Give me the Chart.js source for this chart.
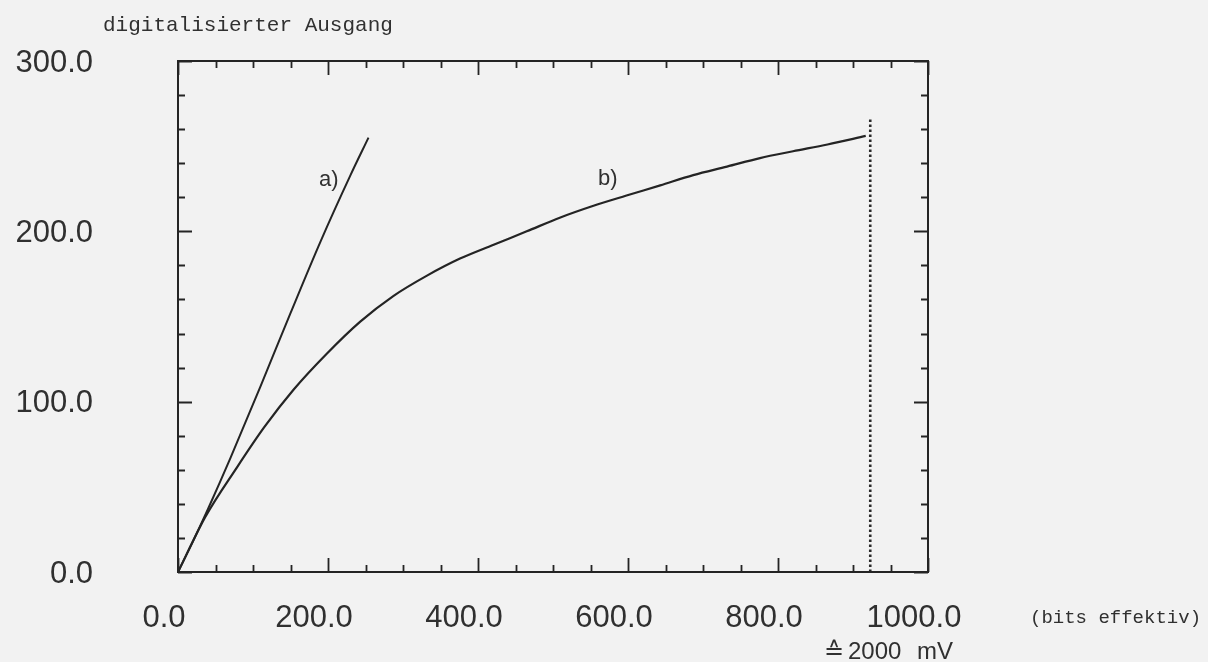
<!DOCTYPE html>
<html>
<head>
<meta charset="utf-8">
<title>digitalisierter Ausgang</title>
<script src="https://cdn.jsdelivr.net/npm/chart.js@4/dist/chart.umd.min.js"></script>
<style>
  html, body { margin: 0; padding: 0; background: #f2f2f2; }
  #wrap { width: 1208px; height: 662px; }
</style>
</head>
<body>
<div id="wrap"><canvas id="adcChart" width="1208" height="662"></canvas></div>
<script>
// values
const curveAX = [0, 20, 40, 70, 110, 150, 190, 230, 254];
const curveAY = [0, 18, 37, 67, 109, 152, 194, 233, 255];

const curveBX = [0, 36, 78, 115, 154, 198, 243, 287, 332, 376, 420, 465, 509, 554, 598, 643, 687, 732, 776, 820, 866, 917];
const curveBY = [0, 32, 61, 85, 107, 128, 147, 162, 174, 184, 192, 200, 208, 215, 221, 227, 233, 238, 243, 247, 251, 256];

const limitX = [923, 923];
const limitY = [0, 267];

const xTickValues = [0, 200, 400, 600, 800, 1000];
const xTickLabels = ['0.0', '200.0', '400.0', '600.0', '800.0', '1000.0'];
const yTickValues = [0, 100, 200, 300];
const yTickLabels = ['0.0', '100.0', '200.0', '300.0'];

const curveNotes = [
  { text: 'a)', x: 201, y: 230 },
  { text: 'b)', x: 573, y: 231 }
];

const INK = '#242424';
const SANS = '"Liberation Sans", Arial, sans-serif';
const MONO = '"Liberation Mono", "DejaVu Sans Mono", monospace';

function toPoints(xs, ys) {
  return xs.map((x, i) => ({ x: x, y: ys[i] }));
}

// old-style plot frame: box with inward ticks on all four sides
const plotFrame = {
  id: 'plotFrame',
  afterDraw(chart) {
    const { ctx, chartArea: area, scales } = chart;
    const x = scales.x, y = scales.y;
    ctx.save();
    ctx.strokeStyle = INK;
    ctx.lineWidth = 2;
    ctx.strokeRect(area.left, area.top, area.right - area.left, area.bottom - area.top);

    ctx.lineWidth = 1.8;
    ctx.beginPath();
    for (let v = 0; v <= 1000; v += 50) {
      const px = Math.round(x.getPixelForValue(v)) + 0.5;
      const len = v % 200 === 0 ? 14 : 7;
      ctx.moveTo(px, area.bottom); ctx.lineTo(px, area.bottom - len);
      ctx.moveTo(px, area.top); ctx.lineTo(px, area.top + len);
    }
    for (let v = 0; v <= 300; v += 20) {
      const py = Math.round(y.getPixelForValue(v)) + 0.5;
      const len = v % 100 === 0 ? 14 : 7;
      ctx.moveTo(area.left, py); ctx.lineTo(area.left + len, py);
      ctx.moveTo(area.right, py); ctx.lineTo(area.right - len, py);
    }
    ctx.stroke();

    ctx.fillStyle = '#303030';
    ctx.font = '31px ' + SANS;
    ctx.textBaseline = 'middle';
    ctx.textAlign = 'center';
    xTickValues.forEach((v, i) => {
      ctx.fillText(xTickLabels[i], x.getPixelForValue(v) - 14, 618);
    });
    ctx.textAlign = 'right';
    yTickValues.forEach((v, i) => {
      ctx.fillText(yTickLabels[i], 93, y.getPixelForValue(v) + 2);
    });

    ctx.font = '22px ' + SANS;
    ctx.textAlign = 'center';
    curveNotes.forEach(n => {
      ctx.fillText(n.text, x.getPixelForValue(n.x), y.getPixelForValue(n.y));
    });

    ctx.font = '21px ' + MONO;
    ctx.textAlign = 'left';
    ctx.textBaseline = 'alphabetic';
    ctx.fillText('digitalisierter Ausgang', 103, 31);

    ctx.font = '19px ' + MONO;
    ctx.textBaseline = 'middle';
    ctx.fillText('(bits effektiv)', 1030, 618);

    ctx.font = '24px ' + SANS;
    ctx.fillText('\u2259', 824, 652);
    ctx.fillText('2000', 848, 652);
    ctx.fillText('mV', 917, 652);
    ctx.restore();
  }
};

const ctx = document.getElementById('adcChart').getContext('2d');
new Chart(ctx, {
  type: 'line',
  data: {
    datasets: [
      {
        label: 'a)',
        data: toPoints(curveAX, curveAY),
        borderColor: INK,
        borderWidth: 2,
        pointRadius: 0,
        cubicInterpolationMode: 'monotone'
      },
      {
        label: 'b)',
        data: toPoints(curveBX, curveBY),
        borderColor: INK,
        borderWidth: 2.2,
        pointRadius: 0,
        cubicInterpolationMode: 'monotone'
      },
      {
        label: 'Grenze',
        data: toPoints(limitX, limitY),
        borderColor: '#2a2a2a',
        borderWidth: 2.6,
        borderDash: [2.5, 2.5],
        pointRadius: 0
      }
    ]
  },
  options: {
    responsive: false,
    animation: false,
    layout: { padding: { left: 178, top: 61, right: 280, bottom: 90 } },
    scales: {
      x: { type: 'linear', min: 0, max: 1000, display: false },
      y: { type: 'linear', min: 0, max: 300, display: false }
    },
    plugins: {
      legend: { display: false },
      tooltip: { enabled: false }
    }
  },
  plugins: [plotFrame]
});
</script>
</body>
</html>
